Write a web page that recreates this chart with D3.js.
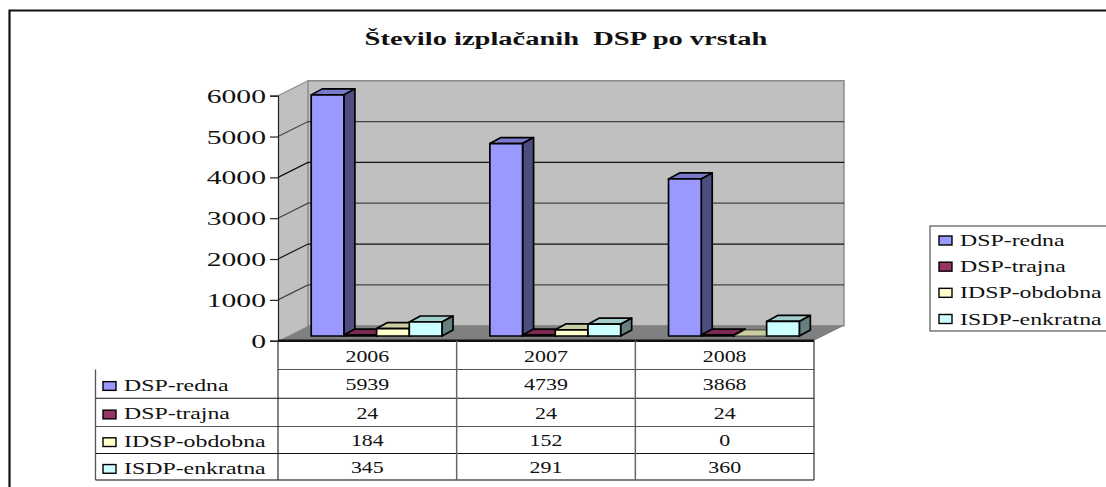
<!DOCTYPE html>
<html>
<head>
<meta charset="utf-8">
<script src="https://cdn.jsdelivr.net/npm/d3@7"></script>
<style>
body { margin: 0; background: #fff; }
svg { display: block; }
text { font-family: "Liberation Serif", serif; fill: #111; white-space: pre; }
</style>
</head>
<body>
<div id="the_chart"></div>
<script>
var titleText = "Število izplačanih  DSP po vrstah";
var years = ["2006", "2007", "2008"];
var seriesNames = ["DSP-redna", "DSP-trajna", "IDSP-obdobna", "ISDP-enkratna"];
var dspRedna = [5939, 4739, 3868];
var dspTrajna = [24, 24, 24];
var idspObdobna = [184, 152, 0];
var isdpEnkratna = [345, 291, 360];
var yTicks = [0, 1000, 2000, 3000, 4000, 5000, 6000];
var frontColors = ["#9999ff", "#993366", "#ffffcc", "#ccffff"];
var topColors = ["#7a7acc", "#7a2952", "#cccca3", "#a3cccc"];
var sideColors = ["#4d4d80", "#4d1a33", "#808066", "#668080"];

var seriesValues = [dspRedna, dspTrajna, idspObdobna, isdpEnkratna];

var w = 1106;
var h = 487;

var svg = d3.select("#the_chart")
    .append("svg")
    .attr("width", w)
    .attr("height", h);

// the original picture is stretched sideways, so text gets its own x scale
function label(x, y, txt, size, stretch, anchor, weight) {
    return svg.append("text")
        .attr("transform", "translate(" + x + "," + y + ") scale(" + stretch + ",1)")
        .attr("text-anchor", anchor || "start")
        .attr("font-size", size)
        .attr("font-weight", weight || "normal")
        .text(txt);
}

var poly = d3.line();

// chart frame, only top and left are inside the picture
svg.append("path")
    .attr("d", poly([[9.5, h], [9.5, 10.5], [w, 10.5]]))
    .attr("fill", "none")
    .attr("stroke", "#111")
    .attr("stroke-width", 2.2);

label(566, 45, titleText, 18.5, 1.54, "middle", "bold");

// scales
var left = 278, right = 814;
var depthX = 30, depthY = 15;
var y = d3.scaleLinear().domain([0, 6000]).range([340.7, 95.7]);
var yBar = d3.scaleLinear().domain([0, 6000]).range([336, 92.4]); // bars stand further back, so a bit shorter
var x0 = d3.scaleBand().domain(years).range([left, right]);
var x1 = d3.scaleBand().domain(seriesNames).range([24.2, 155]);

// walls and floor
var y0 = y(0), yTop = y(6000);
svg.append("path")
    .attr("d", poly([[left, y0], [left, yTop], [left + depthX, yTop - depthY], [left + depthX, y0 - depthY]]) + "Z")
    .attr("fill", "#c0c0c0");
svg.append("path")
    .attr("d", poly([[left + depthX, y0 - depthY], [left + depthX, yTop - depthY], [right + depthX, yTop - depthY], [right + depthX, y0 - depthY]]) + "Z")
    .attr("fill", "#c0c0c0")
    .attr("stroke", "#8c8c8c")
    .attr("stroke-width", 1.5);
svg.append("path")
    .attr("d", poly([[left, y0], [left + depthX, y0 - depthY], [right + depthX, y0 - depthY], [right, y0]]) + "Z")
    .attr("fill", "#808080");

// gridlines on both walls
yTicks.slice(1, -1).forEach(function (t, i) {
    svg.append("path")
        .attr("d", poly([[left, y(t)], [left + depthX, y(t) - depthY], [right + depthX, y(t) - depthY]]))
        .attr("fill", "none")
        .attr("stroke", i % 2 == 0 ? "#444" : "#111")
        .attr("stroke-width", 1.2);
});
svg.append("path")
    .attr("d", poly([[left, yTop], [left + depthX, yTop - depthY]]))
    .attr("fill", "none")
    .attr("stroke", "#8c8c8c")
    .attr("stroke-width", 1.2);

// bars
var shiftX = 9, barDx = 11, barDy = 6;
years.forEach(function (year, i) {
    seriesNames.forEach(function (name, s) {
        var v = seriesValues[s][i];
        var xa = x0(year) + x1(name) + shiftX;
        var xb = xa + x1.bandwidth();
        var ya = yBar(0);
        var yb = yBar(v);
        var g = svg.append("g")
            .attr("stroke", "#000")
            .attr("stroke-width", v > 0 ? 1.7 : 0.6)
            .attr("stroke-linejoin", "round");
        g.append("path")
            .attr("d", poly([[xa, yb], [xa + barDx, yb - barDy], [xb + barDx, yb - barDy], [xb, yb]]) + "Z")
            .attr("fill", topColors[s]);
        g.append("path")
            .attr("d", poly([[xb, yb], [xb + barDx, yb - barDy], [xb + barDx, ya - barDy], [xb, ya]]) + "Z")
            .attr("fill", sideColors[s]);
        if (v > 0) {
            g.append("path")
                .attr("d", poly([[xa, ya], [xa, yb], [xb, yb], [xb, ya]]) + "Z")
                .attr("fill", frontColors[s]);
        }
    });
});

// value axis
var axis = svg.append("g")
    .attr("transform", "translate(" + left + ",0)")
    .call(d3.axisLeft(y).tickValues(yTicks).tickSize(8).tickFormat(""));
axis.select(".domain").attr("stroke", "#222").attr("stroke-width", 1.2);
axis.selectAll(".tick line").attr("stroke", "#222").attr("stroke-width", 1.2);
yTicks.forEach(function (t) {
    label(266, y(t) + 7, String(t), 19.5, 1.52, "end");
});

// data table
var tableLeft = 95.5;
var rowEdges = [341, 369.5, 398.2, 426.5, 453.5, 480];
svg.append("path")
    .attr("d", poly([[left, y0], [right, y0]]))
    .attr("stroke", "#111")
    .attr("stroke-width", 2.5);
rowEdges.slice(1).forEach(function (ry, i) {
    svg.append("path")
        .attr("d", poly([[i == 0 ? left : tableLeft, ry], [right, ry]]))
        .attr("stroke", i % 2 == 0 ? "#555" : "#111")
        .attr("stroke-width", i == 4 ? 1.5 : 1.1);
});
svg.append("path")
    .attr("d", poly([[tableLeft, rowEdges[1]], [tableLeft, rowEdges[5]]]))
    .attr("fill", "none")
    .attr("stroke", "#555")
    .attr("stroke-width", 1.3);
[left].concat(years.map(function (d) { return x0(d) + x0.bandwidth(); })).forEach(function (vx, i) {
    svg.append("path")
        .attr("d", poly([[vx, y0], [vx, rowEdges[5]]]))
        .attr("stroke", i == 1 || i == 2 ? "#666" : "#222")
        .attr("stroke-width", i == 1 || i == 2 ? 1.5 : 1.1);
});
years.forEach(function (year) {
    label(x0(year) + x0.bandwidth() / 2, 361.5, year, 16, 1.37, "middle");
});
seriesNames.forEach(function (name, s) {
    var mid = (rowEdges[s + 1] + rowEdges[s + 2]) / 2;
    svg.append("rect")
        .attr("x", 103)
        .attr("y", mid - 2.2)
        .attr("width", 13)
        .attr("height", 8.7)
        .attr("fill", frontColors[s])
        .attr("stroke", "#000")
        .attr("stroke-width", 1.4);
    label(124, mid + 7, name, 16, 1.49);
    years.forEach(function (year, i) {
        label(x0(year) + x0.bandwidth() / 2, mid + 6.3, String(seriesValues[s][i]), 16, 1.37, "middle");
    });
});

// legend, cut off by the picture edge
svg.append("rect")
    .attr("x", 930)
    .attr("y", 226)
    .attr("width", 190)
    .attr("height", 105)
    .attr("fill", "#fff")
    .attr("stroke", "#555")
    .attr("stroke-width", 1.2);
var legendY = d3.scalePoint().domain(seriesNames).range([240.5, 319]);
seriesNames.forEach(function (name, s) {
    svg.append("rect")
        .attr("x", 939)
        .attr("y", legendY(name) - 4.5)
        .attr("width", 13)
        .attr("height", 9)
        .attr("fill", frontColors[s])
        .attr("stroke", "#000")
        .attr("stroke-width", 1.4);
    label(960, legendY(name) + 5.5, name, 16, 1.49);
});
</script>
</body>
</html>
